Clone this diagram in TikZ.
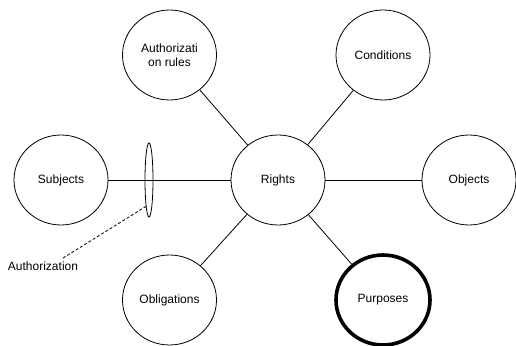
\documentclass[tikz,border=0pt]{standalone}
\usepackage{fontspec}
\setmainfont{Liberation Sans}
\usetikzlibrary{positioning, shapes.geometric}

\begin{document}
\begin{tikzpicture}[x=1pt, y=1pt, on grid, font=\fontsize{12}{14}\selectfont,
    topic/.style={draw, ellipse, minimum width=94pt, minimum height=90pt, inner sep=0pt, line width=0.8pt, align=center},
    purpose/.style={topic, line width=3.6pt}]
   \useasboundingbox (0,0) rectangle (516,345);
   \node[topic] (rights) at (278,165) {Rights};
   \node[topic, above left=125pt and 108.5pt of rights] (authrules) {Authorizati\\on rules};
   \node[topic, above right=125pt and 105pt of rights] (conditions) {Conditions};
   \node[topic, left=217pt of rights] (subjects) {Subjects};
   \node[topic, right=191pt of rights] (objects) {Objects};
   \node[topic, below left=120pt and 108.5pt of rights] (obligations) {Obligations};
   \node[purpose, below right=120pt and 105pt of rights] (purposes) {Purposes};

   \node[draw, ellipse, line width=0.8pt, inner sep=0pt, minimum width=8pt, minimum height=74pt, left=129pt of rights] (auth) {};
   \node[below left=86pt and 106pt of auth] (authlabel) {Authorization};

    \path[line width=0.8pt]
    (rights) edge (authrules)
             edge (conditions)
             edge (subjects)
             edge (objects)
             edge (obligations)
             edge (purposes);
    \draw[line width=0.8pt, dash pattern=on 3pt off 2pt] ([xshift=20pt]authlabel.north) -- (auth.south west);
\end{tikzpicture}
\end{document}
